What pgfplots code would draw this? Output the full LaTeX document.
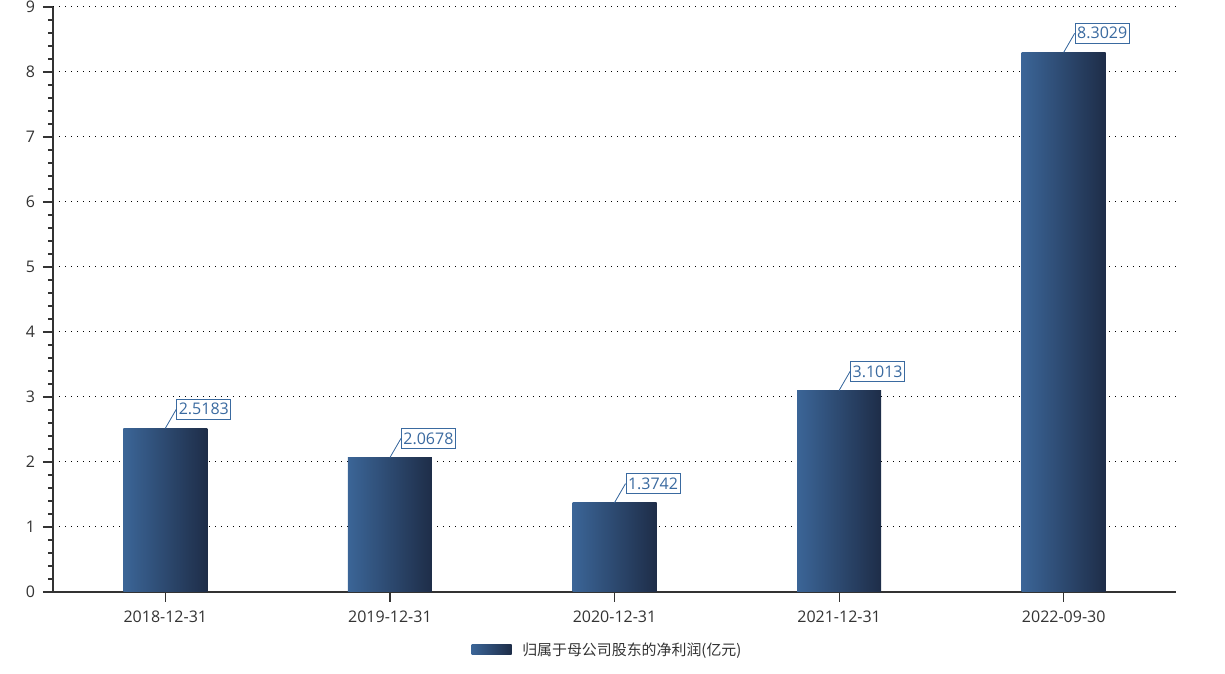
\documentclass[border=0pt]{standalone}
\usepackage{pgfplots}
\pgfplotsset{compat=1.18}
\usepackage{fontspec}
\setmainfont{Open Sans}
\newfontfamily\cjk{Noto Sans CJK SC}
\definecolor{barL}{RGB}{59,101,151}
\definecolor{barR}{RGB}{30,45,72}
\definecolor{lab}{RGB}{58,106,160}
\definecolor{txt}{RGB}{51,51,51}
\pgfplotsset{mybar/.style={ybar, bar width=63pt, draw=none, left color=barL, right color=barR,
  nodes near coords, point meta=explicit symbolic,
  every node near coord/.style={anchor=west, xshift=8.25pt, yshift=14.25pt,
    draw=lab, text=lab, fill=white, inner xsep=1.5pt, inner ysep=3.2pt, line width=0.75pt,
    font=\fontsize{12pt}{14pt}\selectfont,
    append after command={(\tikzlastnode.west) edge[draw=lab, line width=0.6pt] ++(-8.25pt,-14.25pt)}}}}
\begin{document}
\begin{tikzpicture}
\begin{axis}[name=ax, scale only axis, width=842.25pt, height=438.75pt,
  xmin=-0.5, xmax=4.5, ymin=0, ymax=9,
  xtick={0,1,2,3,4},
  xticklabels={2018-12-31,2019-12-31,2020-12-31,2021-12-31,2022-09-30},
  ytick={0,1,...,9}, minor y tick num=4,
  axis x line*=bottom, axis y line*=left,
  axis line style={txt, line width=0.9pt},
  tick align=outside, major tick length=7.5pt, minor tick length=3.75pt,
  tick style={txt, line width=0.9pt},
  ymajorgrids, grid style={black, line width=0.75pt, dash pattern=on 0.75pt off 3.75pt},
  ticklabel style={font=\fontsize{12pt}{14pt}\selectfont, text=txt},
  xticklabel style={yshift=-3.5pt},
  yticklabel style={xshift=-2.5pt},
  /pgf/number format/assume math mode=true,
  legend style={at={(0.5,-0.099)}, anchor=center, xshift=-5pt, draw=none, fill=none,
    font=\cjk\fontsize{11.2pt}{13pt}\selectfont, text=txt},
  legend image code/.code={\shade[left color=barL, right color=barR] (0pt,-3.75pt) rectangle (30pt,3.75pt); \path (0pt,0pt) -- (36pt,0pt);},
]
\addplot[mybar] coordinates {(0,2.5183) [2.5183]};
\addlegendentry{归属于母公司股东的净利润(亿元)}
\addplot[mybar, forget plot] coordinates {(1,2.0678) [2.0678]};
\addplot[mybar, forget plot] coordinates {(2,1.3742) [1.3742]};
\addplot[mybar, forget plot] coordinates {(3,3.1013) [3.1013]};
\addplot[mybar, forget plot] coordinates {(4,8.3029) [8.3029]};
\end{axis}
\pgfresetboundingbox
\path[use as bounding box] ([xshift=-39.75pt,yshift=-61.5pt]ax.south west) rectangle ([xshift=36.75pt,yshift=5.25pt]ax.north east);
\end{tikzpicture}
\end{document}
